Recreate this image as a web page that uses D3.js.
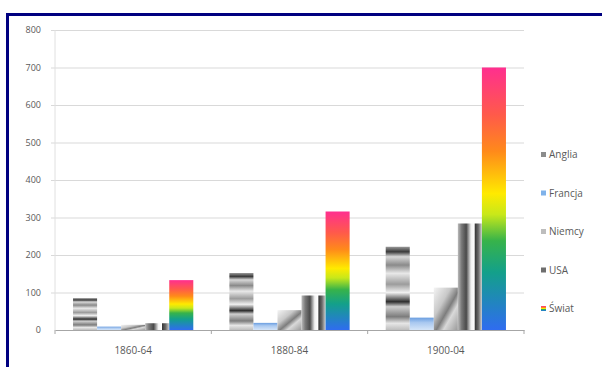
<!DOCTYPE html>
<html>
<meta charset="utf-8">
<title>Produkcja</title>
<style>
body { margin: 0; background: #fff; font-family: "Open Sans", sans-serif; }
.tick text { fill: #595959; }
.legend text { fill: #595959; font-size: 10px; }
</style>
<body>
<div id="chart"></div>
<script src="https://d3js.org/d3.v7.min.js"></script>
<script>
var categories = ["1860-64", "1880-84", "1900-04"];
var series = ["Anglia", "Francja", "Niemcy", "USA", "Świat"];
var anglia  = [85, 152, 222];
var francja = [9, 19, 33];
var niemcy  = [14, 53, 113];
var usa     = [18, 92, 284];
var swiat   = [133, 316, 700];
var yTicks  = [0, 100, 200, 300, 400, 500, 600, 700, 800];

var values = [anglia, francja, niemcy, usa, swiat];

var W = 602, H = 367;
var svg = d3.select("#chart").append("svg")
  .attr("width", W).attr("height", H);

var defs = svg.append("defs");

function grad(id, x2, y2, stops) {
  var g = defs.append("linearGradient").attr("id", id)
    .attr("x1", 0).attr("y1", 0).attr("x2", x2).attr("y2", y2);
  stops.forEach(function(s) {
    g.append("stop").attr("offset", s[0]).attr("stop-color", s[1]);
  });
}

// horizontal banded silver
grad("g-anglia", 0, 1, [
  [0, "#9a9a9a"], [0.06, "#3a3a3a"], [0.12, "#d8d8d8"], [0.22, "#8a8a8a"],
  [0.32, "#e8e8e8"], [0.45, "#9c9c9c"], [0.55, "#f0f0f0"], [0.66, "#2e2e2e"],
  [0.72, "#cfcfcf"], [0.84, "#7c7c7c"], [0.92, "#e6e6e6"], [1, "#bdbdbd"]
]);
grad("g-francja", 0, 1, [
  [0, "#6a9ee0"], [0.4, "#a9c8f0"], [1, "#d5e5f8"]
]);
grad("g-niemcy", 1, 1, [
  [0, "#f4f4f4"], [0.35, "#c8c8c8"], [0.55, "#7d7d7d"], [0.7, "#d9d9d9"], [1, "#9a9a9a"]
]);
grad("g-usa", 1, 0, [
  [0, "#bbbbbb"], [0.15, "#7a7a7a"], [0.35, "#4a4a4a"], [0.55, "#f2f2f2"],
  [0.68, "#ffffff"], [0.72, "#3a3a3a"], [0.85, "#6a6a6a"], [1, "#cfcfcf"]
]);
grad("g-swiat", 0, 1, [
  [0, "#ff2f8f"], [0.18, "#ff5a4a"], [0.32, "#ff8a1a"], [0.48, "#ffea00"],
  [0.56, "#c8e81a"], [0.66, "#37b34a"], [0.78, "#13a08a"], [1, "#2f6cf0"]
]);
var fills = ["url(#g-anglia)", "url(#g-francja)", "url(#g-niemcy)", "url(#g-usa)", "url(#g-swiat)"];
var swatch = ["#8c8c8c", "#7fb2ea", "#bdbdbd", "#6e6e6e", "url(#g-swiat)"];

// frame
svg.append("rect")
  .attr("x", 7.5).attr("y", 14.5).attr("width", 600).attr("height", 360)
  .attr("fill", "none").attr("stroke", "#000080").attr("stroke-width", 3);

var plotLeft = 55, plotRight = 524, plotTop = 30, plotBottom = 330;

var y = d3.scaleLinear().domain([0, 800]).range([plotBottom, plotTop]);
var x0 = d3.scaleBand().domain(categories).range([plotLeft, plotRight]).paddingInner(0).paddingOuter(0);
var x1 = d3.scaleBand().domain(series).range([0, x0.bandwidth()]).paddingInner(0).paddingOuter(0.75);

// grid
var yAxis = d3.axisLeft(y).tickValues(yTicks).tickSize(-(plotRight - plotLeft)).tickPadding(14);
var gy = svg.append("g").attr("transform", "translate(" + plotLeft + ",0)").call(yAxis);
gy.select(".domain").remove();
gy.selectAll(".tick line").attr("stroke", "#d9d9d9").attr("x1", -4);
gy.selectAll(".tick text").attr("font-family", "'Open Sans', sans-serif").style("font-size", "9px");
gy.selectAll(".tick").filter(function(d) { return d === 0; }).select("line").attr("stroke", "none");
gy.append("line")
  .attr("x1", 0).attr("x2", 0).attr("y1", plotTop).attr("y2", plotBottom)
  .attr("stroke", "#e0e0e0");

// bars
var groups = svg.append("g").selectAll("g")
  .data(categories)
  .enter().append("g")
  .attr("transform", function(d) { return "translate(" + x0(d) + ",0)"; });

groups.selectAll("rect")
  .data(function(c, ci) { return series.map(function(s, si) { return { s: s, si: si, v: values[si][ci] }; }); })
  .enter().append("rect")
  .attr("x", function(d) { return x1(d.s); })
  .attr("width", x1.bandwidth())
  .attr("y", function(d) { return y(d.v); })
  .attr("height", function(d) { return y(0) - y(d.v); })
  .attr("fill", function(d) { return fills[d.si]; });

// x axis
var xAxis = d3.axisBottom(x0).tickSize(0).tickPadding(17);
var gx = svg.append("g").attr("transform", "translate(0," + plotBottom + ")").call(xAxis);
gx.select(".domain").attr("stroke", "#a6a6a6");
gx.selectAll(".tick text").attr("font-family", "'Open Sans', sans-serif").style("font-size", "10px");
gx.selectAll(".bound")
  .data([plotLeft, plotLeft + x0.step(), plotLeft + 2 * x0.step(), plotRight])
  .enter().append("line")
  .attr("x1", function(d) { return d; }).attr("x2", function(d) { return d; })
  .attr("y1", 0).attr("y2", 4).attr("stroke", "#a6a6a6");

// legend
var legend = svg.append("g").attr("class", "legend").selectAll("g")
  .data(series)
  .enter().append("g")
  .attr("transform", function(d, i) { return "translate(541," + (155 + i * 38.5) + ")"; });
legend.append("rect")
  .attr("x", 0).attr("y", -3).attr("width", 5).attr("height", 5)
  .attr("fill", function(d, i) { return swatch[i]; });
legend.append("text")
  .attr("x", 8).attr("dy", "0.32em")
  .text(function(d) { return d; });
</script>
</body>
</html>
